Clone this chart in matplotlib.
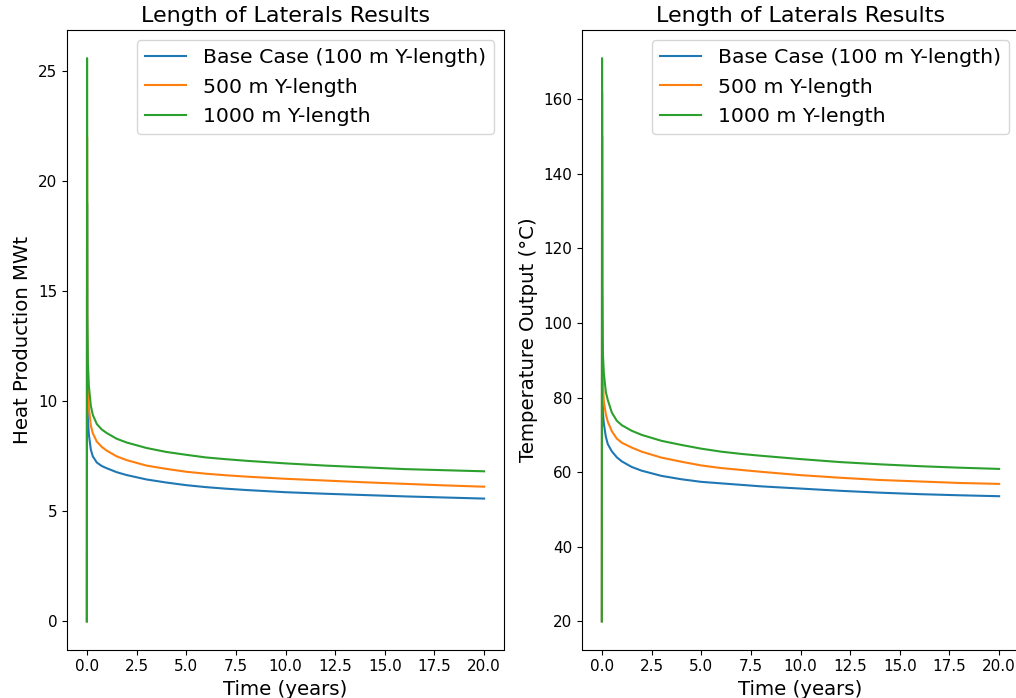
import matplotlib
matplotlib.use('Agg')
import matplotlib.pyplot as plt

# time axis of the simulation output (years)
tempo = [0, 0.01, 0.02, 0.05, 0.1, 0.2, 0.3, 0.5, 0.75, 1, 1.5, 2, 3, 4, 5,
         6, 7, 8, 10, 12, 14, 16, 18, 20]

rotulos = ['Base Case (100 m Y-length)', '500 m Y-length', '1000 m Y-length']

# heat production (MWt)
calor_base = [0, 19, 11, 9.2, 8.5, 7.8, 7.5, 7.22, 7.06, 6.96, 6.78, 6.65, 6.45,
              6.31, 6.19, 6.10, 6.03, 5.97, 5.87, 5.80, 5.74, 5.68, 5.63, 5.58]
calor_500 = [0, 22, 13, 10.6, 9.7, 8.9, 8.55, 8.17, 7.93, 7.76, 7.5, 7.33, 7.08,
             6.93, 6.80, 6.71, 6.64, 6.58, 6.48, 6.40, 6.32, 6.25, 6.18, 6.12]
calor_1000 = [0, 25.6, 14, 11.8, 10.7, 9.8, 9.38, 8.97, 8.72, 8.56, 8.3, 8.13, 7.88,
              7.70, 7.57, 7.45, 7.37, 7.30, 7.18, 7.08, 7.00, 6.92, 6.87, 6.82]

# outlet temperature (deg C)
temp_base = [20, 150, 90, 76, 73, 69.5, 67.5, 65.6, 64.0, 62.9, 61.4, 60.4, 59.0,
             58.1, 57.4, 57.0, 56.6, 56.2, 55.6, 55.0, 54.5, 54.1, 53.8, 53.55]
temp_500 = [20, 162, 100, 84, 79, 75.5, 73.5, 71.0, 69.0, 67.9, 66.6, 65.5, 63.9,
            62.8, 61.8, 61.1, 60.6, 60.1, 59.2, 58.5, 57.9, 57.5, 57.1, 56.85]
temp_1000 = [20, 171, 110, 92, 86.5, 81.5, 79.3, 76.0, 73.8, 72.6, 71.1, 70.0, 68.4,
             67.3, 66.3, 65.5, 64.9, 64.4, 63.5, 62.7, 62.1, 61.6, 61.2, 60.87]

fig = plt.figure(figsize=(10.16, 6.98), dpi=100)
ax1 = fig.add_axes([67 / 1016, 1 - 649.5 / 698, 437 / 1016, 619.5 / 698])
ax2 = fig.add_axes([582 / 1016, 1 - 649.5 / 698, 437 / 1016, 619.5 / 698])

for serie, rotulo in zip([calor_base, calor_500, calor_1000], rotulos):
    ax1.plot(tempo, serie, label=rotulo)
ax1.set_xlabel('Time (years)', fontsize=14.2)
ax1.set_ylabel('Heat Production MWt', fontsize=14.2)
ax1.set_title('Length of Laterals Results', fontsize=16)
ax1.legend(fontsize=14.7)

for serie, rotulo in zip([temp_base, temp_500, temp_1000], rotulos):
    ax2.plot(tempo, serie, label=rotulo)
ax2.set_xlabel('Time (years)', fontsize=14.2)
ax2.set_ylabel('Temperature Output (°C)', fontsize=14.2)
ax2.set_title('Length of Laterals Results', fontsize=16)
ax2.legend(fontsize=14.7)

for ax in (ax1, ax2):
    ax.tick_params(labelsize=11)

fig.savefig('out.png', dpi=100)
